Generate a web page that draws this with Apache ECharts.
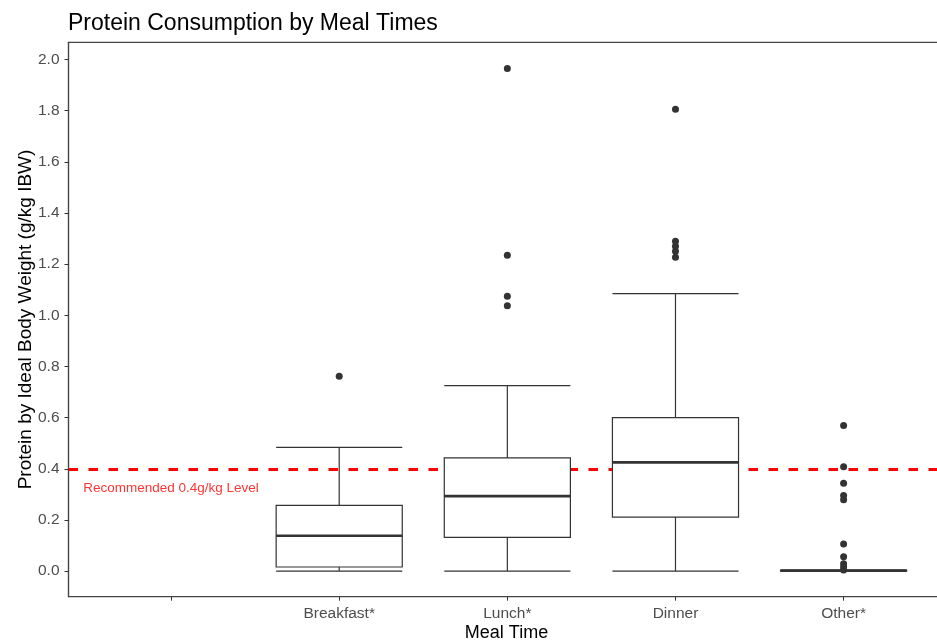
<!DOCTYPE html>
<html>
<head>
<meta charset="utf-8">
<script src="https://cdn.jsdelivr.net/npm/echarts@6/dist/echarts.min.js"></script>
<style>
html,body{margin:0;padding:0;background:#fff;overflow:hidden;}
#chart{width:937px;height:644px;}
</style>
</head>
<body>
<div id="chart"></div>
<script>
// ---- data ----
const categories = ['', 'Breakfast*', 'Lunch*', 'Dinner', 'Other*'];
const yTicks = [0, 0.2, 0.4, 0.6, 0.8, 1.0, 1.2, 1.4, 1.6, 1.8, 2.0];
// [min, Q1, median, Q3, max]
const breakfastBox = [0, 0.016, 0.138, 0.257, 0.484];
const lunchBox = [0, 0.132, 0.293, 0.443, 0.725];
const dinnerBox = [0, 0.211, 0.425, 0.600, 1.085];
const otherBox = [0, 0, 0.002, 0.003, 0.004];
const breakfastOutliers = [0.762];
const lunchOutliers = [1.965, 1.235, 1.074, 1.037];
const dinnerOutliers = [1.805, 1.289, 1.270, 1.250, 1.227];
const otherOutliers = [0.569, 0.408, 0.343, 0.296, 0.279, 0.106, 0.056, 0.029, 0.016, 0.004];
const recommendedLevel = 0.4;
const annotationText = 'Recommended 0.4g/kg Level';
const annotationPos = [0, 0.325];

// ---- build ----
const X_MIN = -0.61, X_MAX = 4.6;
const GRID_LEFT = 68.5, GRID_WIDTH = 876;
const boxPx = GRID_WIDTH / (X_MAX - X_MIN) * 0.75;

const boxes = [breakfastBox, lunchBox, dinnerBox, otherBox];
const outlierSets = [breakfastOutliers, lunchOutliers, dinnerOutliers, otherOutliers];
const boxData = boxes.map((b, i) => [i + 1].concat(b));
const medianData = boxes.map((b, i) => [i + 1, b[2], b[2], b[2], b[2], b[2]]);
const outlierData = [];
outlierSets.forEach((arr, i) => arr.forEach(v => outlierData.push([i + 1, v])));

const chart = echarts.init(document.getElementById('chart'), null, {renderer: 'canvas'});
const FONT = 'Liberation Sans, Arial, sans-serif';
chart.setOption({
  animation: false,
  backgroundColor: '#fff',
  title: {
    text: 'Protein Consumption by Meal Times',
    left: 63, top: 7,
    textStyle: {fontFamily: FONT, fontSize: 23, fontWeight: 'normal', color: '#000'}
  },
  grid: {
    left: GRID_LEFT, top: 42.3, width: GRID_WIDTH, bottom: 47.3,
    outerBoundsMode: 'none', containLabel: false,
    show: true, borderColor: '#444', borderWidth: 1.2, backgroundColor: '#fff'
  },
  xAxis: [{
    type: 'value', min: X_MIN, max: X_MAX,
    name: 'Meal Time', nameLocation: 'middle', nameGap: 27, nameMoveOverlap: false,
    nameTextStyle: {fontFamily: FONT, fontSize: 18, color: '#000'},
    splitLine: {show: false},
    axisLine: {show: true, onZero: false, lineStyle: {color: '#444', width: 1.2}},
    axisTick: {show: true, length: 4, lineStyle: {color: '#333'}, customValues: [0, 1, 2, 3, 4]},
    axisLabel: {
      customValues: [0, 1, 2, 3, 4],
      margin: 9,
      fontFamily: FONT, fontSize: 15.5, color: '#4d4d4d',
      formatter: v => categories[Math.round(v)]
    }
  }, {
    type: 'value', min: X_MIN, max: X_MAX, show: false
  }],
  yAxis: {
    type: 'value', min: -0.1, max: 2.067,
    name: 'Protein by Ideal Body Weight (g/kg IBW)', nameLocation: 'middle', nameGap: 33, nameMoveOverlap: false,
    nameTextStyle: {fontFamily: FONT, fontSize: 19, color: '#000'},
    splitLine: {show: false},
    axisLine: {show: true, onZero: false, lineStyle: {color: '#444', width: 1.2}},
    axisTick: {show: true, length: 4, lineStyle: {color: '#333'}, customValues: yTicks},
    axisLabel: {
      customValues: yTicks,
      margin: 9,
      fontFamily: FONT, fontSize: 15.5, color: '#4d4d4d',
      formatter: v => v.toFixed(1)
    }
  },
  series: [
    {
      type: 'line', data: [], z: 1, silent: true,
      markLine: {
        z: 1, zlevel: 0,
        silent: true, symbol: ['none', 'none'],
        label: {show: false},
        lineStyle: {color: '#ff0000', width: 2.8, type: [9.5, 10.5]},
        data: [{yAxis: recommendedLevel}]
      }
    },
    {
      type: 'boxplot', z: 2, xAxisIndex: 0,
      boxWidth: [boxPx, boxPx],
      itemStyle: {color: '#fff', borderColor: '#333', borderWidth: 1.2},
      data: boxData
    },
    {
      type: 'boxplot', z: 3, xAxisIndex: 1,
      boxWidth: [boxPx, boxPx],
      itemStyle: {color: 'rgba(0,0,0,0)', borderColor: '#333', borderWidth: 2.6},
      data: medianData
    },
    {
      type: 'scatter', z: 4,
      symbol: 'circle', symbolSize: 7,
      itemStyle: {color: '#333', opacity: 1},
      data: outlierData
    },
    {
      type: 'scatter', z: 4,
      symbolSize: 0,
      label: {
        show: true, position: 'inside', formatter: annotationText,
        fontFamily: FONT, fontSize: 13.5, color: '#ff0000'
      },
      data: [annotationPos]
    }
  ]
});
</script>
</body>
</html>
